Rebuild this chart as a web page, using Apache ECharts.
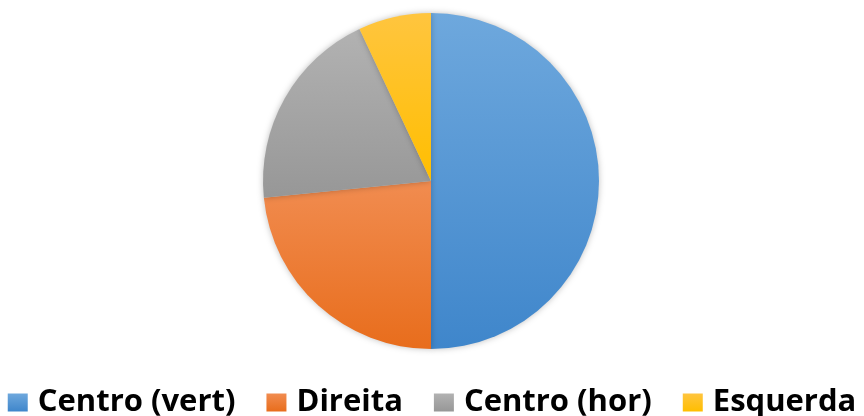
<!DOCTYPE html>
<html>
<head>
<meta charset="utf-8">
<script src="https://cdn.jsdelivr.net/npm/echarts@6/dist/echarts.min.js"></script>
<style>
  html, body { margin: 0; padding: 0; background: #fff; }
  #chart { width: 864px; height: 416px; }
</style>
</head>
<body>
<div id="chart"></div>
<script>
var categories = ['Centro (vert)', 'Direita', 'Centro (hor)', 'Esquerda'];
var values = [50, 23.4, 19.6, 7];
var topColors = ['#6ea8dd', '#f18c50', '#b2b2b2', '#ffc53f'];
var bottomColors = ['#3f86cb', '#e86d1c', '#979797', '#ffbe00'];

var myChart = echarts.init(document.getElementById('chart'));

var pieData = categories.map(function (name, i) {
    return {
        name: name,
        value: values[i],
        itemStyle: {
            color: new echarts.graphic.LinearGradient(0, 0, 0, 1, [
                { offset: 0, color: topColors[i] },
                { offset: 1, color: bottomColors[i] }
            ])
        }
    };
});

var option = {
    animation: false,
    color: bottomColors,
    legend: {
        data: categories,
        top: 387,
        left: 'center',
        padding: 0,
        itemWidth: 20,
        itemHeight: 18,
        itemGap: 31,
        icon: 'rect',
        textStyle: {
            fontFamily: 'Open Sans',
            fontWeight: 'bold',
            fontSize: 31,
            color: '#000',
            padding: [0, 0, 0, 5]
        }
    },
    series: [{
        type: 'pie',
        center: [431, 181],
        radius: 168,
        startAngle: 90,
        clockwise: true,
        label: { show: false },
        labelLine: { show: false },
        itemStyle: {
            shadowBlur: 6,
            shadowColor: 'rgba(0,0,0,0.25)'
        },
        emphasis: { disabled: true },
        data: pieData
    }]
};

myChart.setOption(option, true);
</script>
</body>
</html>
